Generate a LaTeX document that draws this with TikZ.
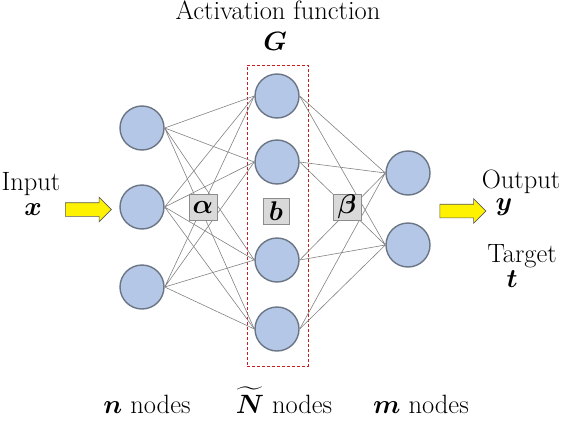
\RequirePackage{fix-cm}
\documentclass[tikz,border=0pt]{standalone}
\usepackage{amsmath}
\usepackage{fontspec}
\usetikzlibrary{shapes.arrows}
\definecolor{nodeblue}{RGB}{180,199,231}
\definecolor{nodeedge}{RGB}{107,118,133}
\definecolor{boxgray}{RGB}{217,217,217}
\definecolor{boxedge}{RGB}{140,140,140}
\definecolor{linkgray}{RGB}{130,130,130}
\definecolor{dashred}{RGB}{200,30,30}
\begin{document}
\begin{tikzpicture}[x=1pt,y=-1pt,
  neuron/.style={circle,draw=nodeedge,line width=1.4pt,fill=nodeblue,minimum size=44pt,inner sep=0pt},
  weight/.style={rectangle,draw=boxedge,fill=boxgray,minimum width=28pt,minimum height=26pt,inner sep=0pt,font=\fontsize{27}{28}\selectfont},
  link/.style={draw=linkgray,line width=0.6pt},
  bigarrow/.style={single arrow,draw=gray!70!black,fill=yellow,line width=0.6pt,minimum height=46pt,single arrow head extend=5.5pt,single arrow head indent=0pt,inner sep=6.5pt},
  hidbox/.style={rectangle,draw=dashred,dash pattern=on 3pt off 2pt,line width=0.8pt,minimum width=61pt,minimum height=301pt,inner sep=0pt},
  txt/.style={font=\fontsize{26.5}{30}\selectfont,inner sep=0pt,anchor=base}]
\def\xIn{142}
\def\xHid{277}
\def\xOut{408}
\useasboundingbox (0,0) rectangle (564,420);
%\draw[help lines,step=20] (0,0) grid (564,420);
\node[hidbox] (hbox) at (277.5,215.5) {};
\path
(\xIn,128) node [neuron] (in1) {}
(\xIn,207) node [neuron] (in2) {}
(\xIn,287) node [neuron] (in3) {}
(\xHid,96) node [neuron] (hid1) {}
(\xHid,162) node [neuron] (hid2) {}
(\xHid,260) node [neuron] (hid3) {}
(\xHid,329) node [neuron] (hid4) {}
(\xOut,173) node [neuron] (out1) {}
(\xOut,245) node [neuron] (out2) {}
;
\draw[link] (in1.east) -- (hid1.west) (in1.east) -- (hid2.west) (in1.east) -- (hid3.west) (in1.east) -- (hid4.west);
\draw[link] (in2.east) -- (hid1.west) (in2.east) -- (hid2.west) (in2.east) -- (hid3.west) (in2.east) -- (hid4.west);
\draw[link] (in3.east) -- (hid1.west) (in3.east) -- (hid2.west) (in3.east) -- (hid3.west) (in3.east) -- (hid4.west);
\draw[link] (hid1.east) -- (out1.west) (hid2.east) -- (out1.west) (hid3.east) -- (out1.west) (hid4.east) -- (out1.west);
\draw[link] (hid1.east) -- (out2.west) (hid2.east) -- (out2.west) (hid3.east) -- (out2.west) (hid4.east) -- (out2.west);
\path
(203,207) node [weight] (alpha) {$\boldsymbol{\alpha}$}
(276,211) node [weight,minimum width=26pt] (bias) {$\boldsymbol{b}$}
(347,207) node [weight] (beta) {$\boldsymbol{\beta}$}
(85,209.5) node [bigarrow] (inarrow) {}
(459.5,211) node [bigarrow] (outarrow) {}
;
\path
(278,20) node [txt] (actlabel) {Activation function}
(275,50) node [txt] (glabel) {$\boldsymbol{G}$}
(31,190) node [txt] (inlabel) {Input}
(33,215) node [txt] (xlabel) {$\boldsymbol{x}$}
(521,188) node [txt] (outlabel) {Output}
(504,210) node [txt] (ylabel) {$\boldsymbol{y}$}
(522,262) node [txt] (tgtlabel) {Target}
(512,287) node [txt] (tlabel) {$\boldsymbol{t}$}
(147,413) node [txt] (ncount) {$\boldsymbol{n}$ nodes}
(284,413) node [txt] (hcount) {$\widetilde{\boldsymbol{N}}$ nodes}
(421,413) node [txt] (mcount) {$\boldsymbol{m}$ nodes}
;
\end{tikzpicture}
\end{document}
